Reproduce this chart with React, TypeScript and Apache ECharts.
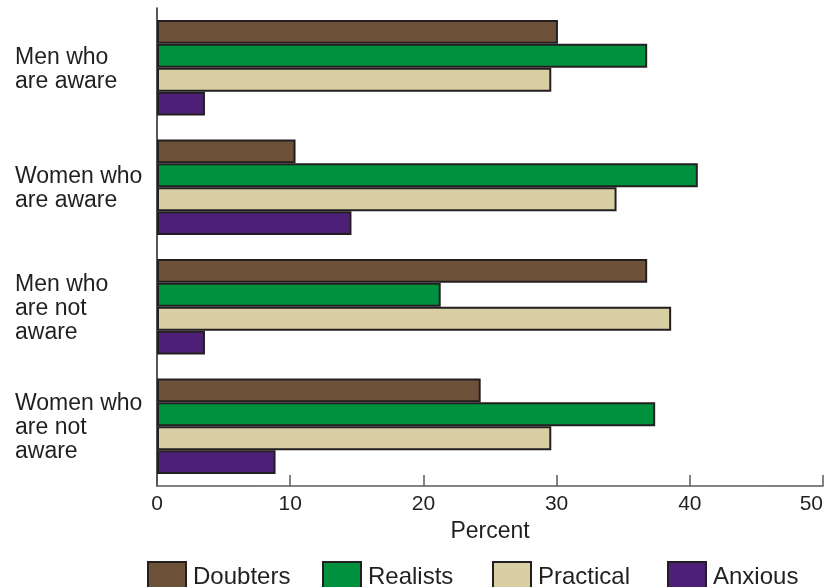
import React, { useEffect, useRef } from "react";
import * as echarts from "echarts";

const categories = [
  "Men who\nare aware",
  "Women who\nare aware",
  "Men who\nare not\naware",
  "Women who\nare not\naware",
];
const seriesNames = ["Doubters", "Realists", "Practical", "Anxious"];
const doubters = [30.1, 10.4, 36.8, 24.3];
const realists = [36.8, 40.6, 21.3, 37.4];
const practical = [29.6, 34.5, 38.6, 29.6];
const anxious = [3.6, 14.6, 3.6, 8.9];
const xTicks = { min: 0, max: 50, interval: 10 };
const colors = ["#6e5139", "#00913f", "#d8cfa5", "#4d1f76"];
const legendLeft = [147, 322, 492, 667];

export default function App() {
  const ref = useRef<HTMLDivElement>(null);
  useEffect(() => {
    if (!ref.current) return;
    const chart = echarts.init(ref.current, null, { renderer: "svg" });
    const values = [doubters, realists, practical, anxious];
    const font = "'Liberation Sans', Arial, Helvetica, sans-serif";
    chart.setOption({
      animation: false,
      textStyle: { fontFamily: font, color: "#231f20" },
      grid: { left: 157, right: 0, top: 8, bottom: 101, containLabel: false },
      legend: seriesNames.map((n, i) => ({
        data: [n],
        left: legendLeft[i],
        top: 561,
        itemWidth: 38,
        itemHeight: 26,
        itemGap: 0,
        padding: 0,
        textStyle: { fontSize: 24, color: "#231f20", fontFamily: font, padding: [0, 0, 0, 2] },
        icon: "rect",
      })),
      xAxis: {
        type: "value",
        min: xTicks.min,
        max: xTicks.max,
        interval: xTicks.interval,
        name: "Percent",
        nameLocation: "middle",
        nameGap: 32,
        nameTextStyle: { fontSize: 23, color: "#231f20", fontFamily: font },
        axisLine: { show: true, lineStyle: { color: "#5a5a5a", width: 1.5 } },
        axisTick: { show: true, inside: true, length: 11, lineStyle: { color: "#5a5a5a", width: 1.5 } },
        splitLine: { show: false },
        axisLabel: {
          fontSize: 21,
          color: "#231f20",
          margin: 6,
          fontFamily: font,
          alignMaxLabel: "right",
        },
      },
      yAxis: {
        type: "category",
        data: categories,
        inverse: true,
        axisLine: { show: true, lineStyle: { color: "#231f20", width: 1.5 } },
        axisTick: { show: false },
        axisLabel: {
          align: "left",
          margin: 142,
          fontSize: 23,
          lineHeight: 24,
          color: "#231f20",
          fontFamily: font,
        },
      },
      series: seriesNames.map((n, i) => ({
        name: n,
        type: "bar",
        data: values[i],
        barGap: "0%",
        barCategoryGap: "20%",
        itemStyle: { color: colors[i], borderColor: "#231f20", borderWidth: 2 },
        emphasis: { disabled: true },
      })),
    });
    return () => chart.dispose();
  }, []);
  return (
    <div
      ref={ref}
      style={{ position: "fixed", left: 0, top: 0, width: 826, height: 587 }}
    />
  );
}
